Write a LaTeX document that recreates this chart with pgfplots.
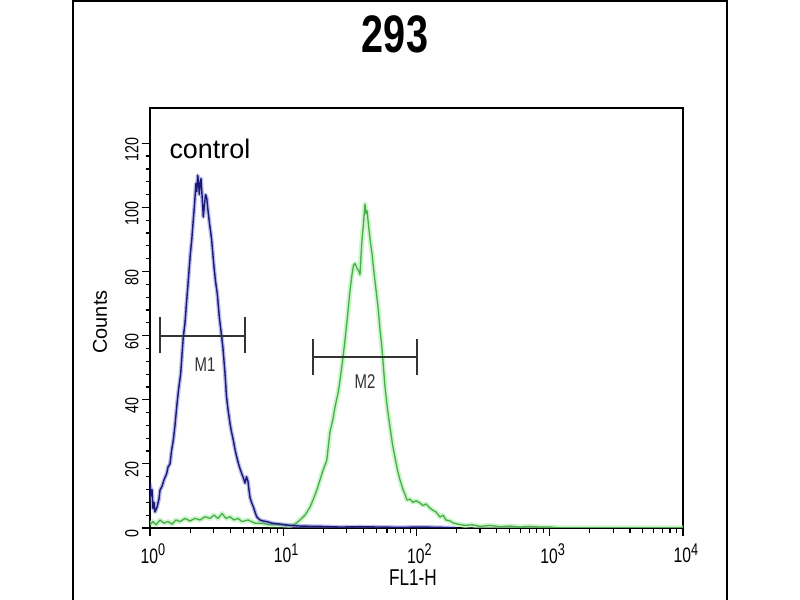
\documentclass[border=0pt]{standalone}
\usepackage{pgfplots}
\pgfplotsset{compat=1.18}
\usepackage{pgfplotstable}
\usepackage{fontspec}
\setmainfont{Liberation Sans}
\newfontfamily\narrowfont{Liberation Sans}[FakeStretch=0.75]
\definecolor{navy}{RGB}{25,25,120}
\definecolor{navyglow}{RGB}{120,120,215}
\definecolor{fgreen}{RGB}{70,175,70}
\definecolor{fglow}{RGB}{185,240,185}
\definecolor{markgrey}{RGB}{50,50,50}

% x = log10(FL1-H), y = counts
\pgfplotstableread{
lx count
0.0000 14
0.0075 10
0.0150 12
0.0225 6
0.0300 8
0.0375 5
0.0525 6.5
0.0675 9
0.0750 11.8
0.0901 13
0.1051 15
0.1253 17
0.1351 19
0.1501 20
0.1614 24
0.1749 27.4
0.1876 32
0.2004 37.8
0.2139 43
0.2304 48.2
0.2402 54
0.2499 59.6
0.2627 64
0.2754 71
0.2852 76
0.2949 81.4
0.3039 86
0.3129 89.7
0.3227 95
0.3325 100
0.3392 104
0.3452 107.5
0.3512 105
0.3580 110
0.3640 108
0.3700 104
0.3752 107
0.3827 109
0.3902 104
0.4000 97
0.4090 101
0.4165 104
0.4255 103
0.4353 99
0.4465 95
0.4578 91.5
0.4630 89.7
0.4728 85
0.4803 81.4
0.4916 77
0.5051 73
0.5201 65.8
0.5381 59.6
0.5478 56
0.5629 48.2
0.5741 41
0.5854 37
0.6004 32.6
0.6116 30
0.6251 27.4
0.6379 24.5
0.6507 22.2
0.6642 20
0.6754 18.5
0.6882 17
0.7017 15.5
0.7129 14
0.7242 16
0.7355 14.5
0.7430 11.8
0.7505 9.5
0.7617 8
0.7752 6.6
0.7880 5
0.8008 3.5
0.8255 2.5
0.8480 2.2
0.8758 2
0.9156 1.5
0.9756 1.2
1.0507 0.8
1.1257 0.6
1.2758 0.5
1.4259 0.3
1.5760 0.4
1.7261 0.3
1.8762 0.2
2.0263 0.3
2.1764 0.2
2.2889 0
}\bluedata

\pgfplotstableread{
lx count
0.0000 1
0.0225 2
0.0450 1
0.0750 2.5
0.1051 1.5
0.1351 2
0.1651 1.2
0.1951 2.5
0.2251 2
0.2627 3
0.3002 2.2
0.3377 3
0.3752 2.5
0.4128 3.5
0.4503 3
0.4803 4
0.5103 3
0.5403 4.5
0.5704 3
0.6004 3.5
0.6304 2.5
0.6604 3
0.6904 2
0.7355 2.5
0.7880 1.5
0.8405 1.5
0.9006 1
0.9756 1
1.0507 0.8
1.0882 1.2
1.1257 2.5
1.1632 4
1.2008 6.5
1.2233 8.7
1.2533 12
1.2758 15
1.2983 18
1.3261 21
1.3508 30
1.3734 34
1.3884 37.7
1.4109 42
1.4259 46
1.4447 52
1.4634 58.6
1.4822 66
1.5009 74
1.5159 79
1.5272 82
1.5385 82.5
1.5535 81
1.5685 80
1.5760 79
1.5835 85
1.5910 89.7
1.6023 95
1.6135 101
1.6210 98
1.6285 99
1.6360 96
1.6435 93
1.6548 89
1.6660 85.7
1.6773 81
1.6886 77
1.6998 73
1.7111 69
1.7261 62
1.7411 56
1.7523 50
1.7636 44
1.7824 37
1.8011 31.5
1.8199 26
1.8386 22
1.8574 18
1.8762 15
1.8987 12
1.9137 10.5
1.9287 8.7
1.9512 9
1.9737 8
1.9962 8.5
2.0263 7.8
2.0488 7
2.0713 7.5
2.1013 6.2
2.1238 5.5
2.1463 5
2.1764 3.4
2.1989 4
2.2214 2.5
2.2514 2.2
2.2739 1.6
2.3114 1.2
2.3640 0.8
2.4165 1
2.4765 0.5
2.5516 0.8
2.6266 0.4
2.7017 0.6
2.7767 0.3
2.8518 0.5
2.9268 0.3
3.0019 0.3
3.0769 0
4.0000 0
}\greendata

\newcommand{\pw}[1]{10\raisebox{0.7ex}{\fontsize{17}{18}\selectfont #1}}

\begin{document}
\begin{tikzpicture}
\path[use as bounding box] (0bp,0bp) rectangle (800bp,600bp);
\draw[line width=2bp] (73bp,0bp) -- (73bp,599bp) -- (727bp,599bp) -- (727bp,0bp);
\node[font=\narrowfont\fontsize{53}{58}\selectfont\bfseries] at (395bp,566bp) {293};
\coordinate (AO) at (150bp,72bp);
\begin{axis}[
  at={(AO)}, anchor=south west,
  scale only axis, width=533bp, height=420bp,
  xmin=0, xmax=4, ymin=0, ymax=131,
  axis line style={line width=1.6bp},
  tick style={line width=1.2bp, black},
  tick align=outside,
  xtick pos=bottom, ytick pos=left,
  major tick length=8bp, minor tick length=4.5bp,
  xtick={0,1,2,3,4},
  xticklabels={\pw{0},\pw{1},\pw{2},\pw{3},\pw{4}},
  minor xtick={0.301,0.477,0.602,0.699,0.778,0.845,0.903,0.954,
               1.301,1.477,1.602,1.699,1.778,1.845,1.903,1.954,
               2.301,2.477,2.602,2.699,2.778,2.845,2.903,2.954,
               3.301,3.477,3.602,3.699,3.778,3.845,3.903,3.954},
  ytick={0,20,40,60,80,100,120},
  yticklabels={0,20,40,60,80,100,120},
  minor y tick num=4,
  xticklabel style={font=\narrowfont\fontsize{21}{23}\selectfont, anchor=north, xshift=3bp, yshift=-4bp},
  yticklabel style={font=\narrowfont\fontsize{19}{21}\selectfont, rotate=90, anchor=south, xshift=-6bp},
  /pgf/number format/assume math mode=true,
  clip=true,
]
\addplot[fglow, line width=5bp, opacity=0.7, line join=round] table[x=lx,y=count] {\greendata};
\addplot[fgreen, line width=1.3bp, line join=round] table[x=lx,y=count] {\greendata};
\addplot[navyglow, line width=4bp, opacity=0.5, line join=round] table[x=lx,y=count] {\bluedata};
\addplot[navy, line width=1.4bp, line join=round] table[x=lx,y=count] {\bluedata};
% markers M1, M2
\addplot[markgrey, line width=2.2bp] coordinates {(0.075,59.8) (0.713,59.8)};
\addplot[markgrey, line width=2.2bp] coordinates {(0.075,54.5) (0.075,65.8)};
\addplot[markgrey, line width=2.2bp] coordinates {(0.713,54.5) (0.713,65.8)};
\addplot[markgrey, line width=2.2bp] coordinates {(1.226,53.4) (2.006,53.4)};
\addplot[markgrey, line width=2.2bp] coordinates {(1.226,47.7) (1.226,59.1)};
\addplot[markgrey, line width=2.2bp] coordinates {(2.006,47.7) (2.006,59.1)};
\node[font=\narrowfont\fontsize{20}{22}\selectfont, text=markgrey] at (axis cs:0.413,50.8) {M1};
\node[font=\narrowfont\fontsize{20}{22}\selectfont, text=markgrey] at (axis cs:1.6135,45.6) {M2};
\node[font=\fontsize{27}{32}\selectfont, anchor=west, inner sep=0pt] at (axis cs:0.145,118.3) {control};
\end{axis}
\node[font=\fontsize{20}{22}\selectfont, rotate=90] at (100bp,278bp) {Counts};
\node[font=\narrowfont\fontsize{23}{25}\selectfont] at (413bp,22bp) {FL1-H};
\end{tikzpicture}
\end{document}
